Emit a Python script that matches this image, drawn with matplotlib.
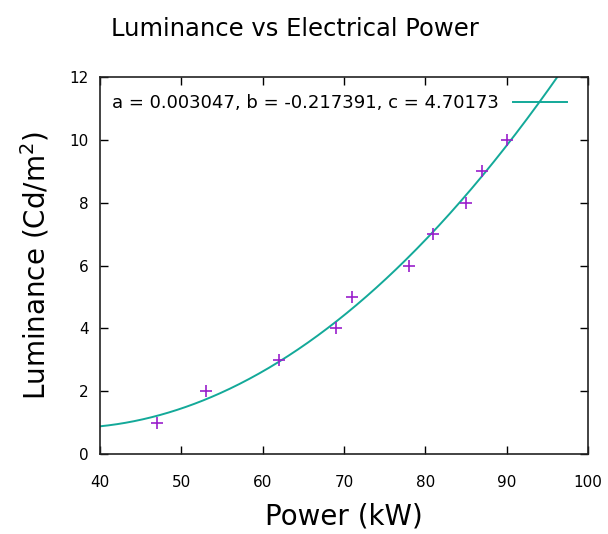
import numpy as np
import matplotlib.pyplot as plt

plt.switch_backend("Agg")

# measured points
power_kw = [47, 53, 62, 69, 71, 78, 81, 85, 87, 90]
luminance = [1, 2, 3, 4, 5, 6, 7, 8, 9, 10]

# fit coefficients shown in the key (y = a*x^2 + b*x + c)
fit_a = 0.003047
fit_b = -0.217391
fit_c = 4.70173

x_ticks = [40, 50, 60, 70, 80, 90, 100]
y_ticks = [0, 2, 4, 6, 8, 10, 12]

fig = plt.figure(figsize=(6.08, 5.34), dpi=100)
ax = fig.add_axes([0.1645, 0.1498, 0.8025, 0.706])

xs = np.linspace(40, 100, 400)
ys = fit_a * xs ** 2 + fit_b * xs + fit_c
ax.plot(xs, ys, color="#13a999", lw=1.4,
        label=f"a = {fit_a}, b = {fit_b}, c = {fit_c}")
ax.plot(power_kw, luminance, ls="none", marker="+", ms=8, mew=1.2,
        color="#9a1fcc")

ax.set_xlim(40, 100)
ax.set_ylim(0, 12)
ax.set_xticks(x_ticks)
ax.set_yticks(y_ticks)
ax.tick_params(direction="in", length=6, width=1, top=True, right=True,
               labelsize=11)
ax.tick_params(axis="x", pad=15)
ax.tick_params(axis="y", pad=8)
for sp in ax.spines.values():
    sp.set_linewidth(1.2)
    sp.set_color("#222222")

ax.set_xlabel("Power (kW)", fontsize=20, labelpad=9)
ax.set_ylabel("Luminance (Cd/m$^2$)", fontsize=20, labelpad=13)
fig.text(0.485, 0.945, "Luminance vs Electrical Power", fontsize=17.5,
         ha="center", va="center")

leg = ax.legend(loc="upper right", bbox_to_anchor=(0.992, 1.0),
                frameon=False, fontsize=13, markerfirst=False,
                handlelength=3.0, handletextpad=0.75, borderaxespad=0.55)

fig.savefig("out.png", dpi=100)
